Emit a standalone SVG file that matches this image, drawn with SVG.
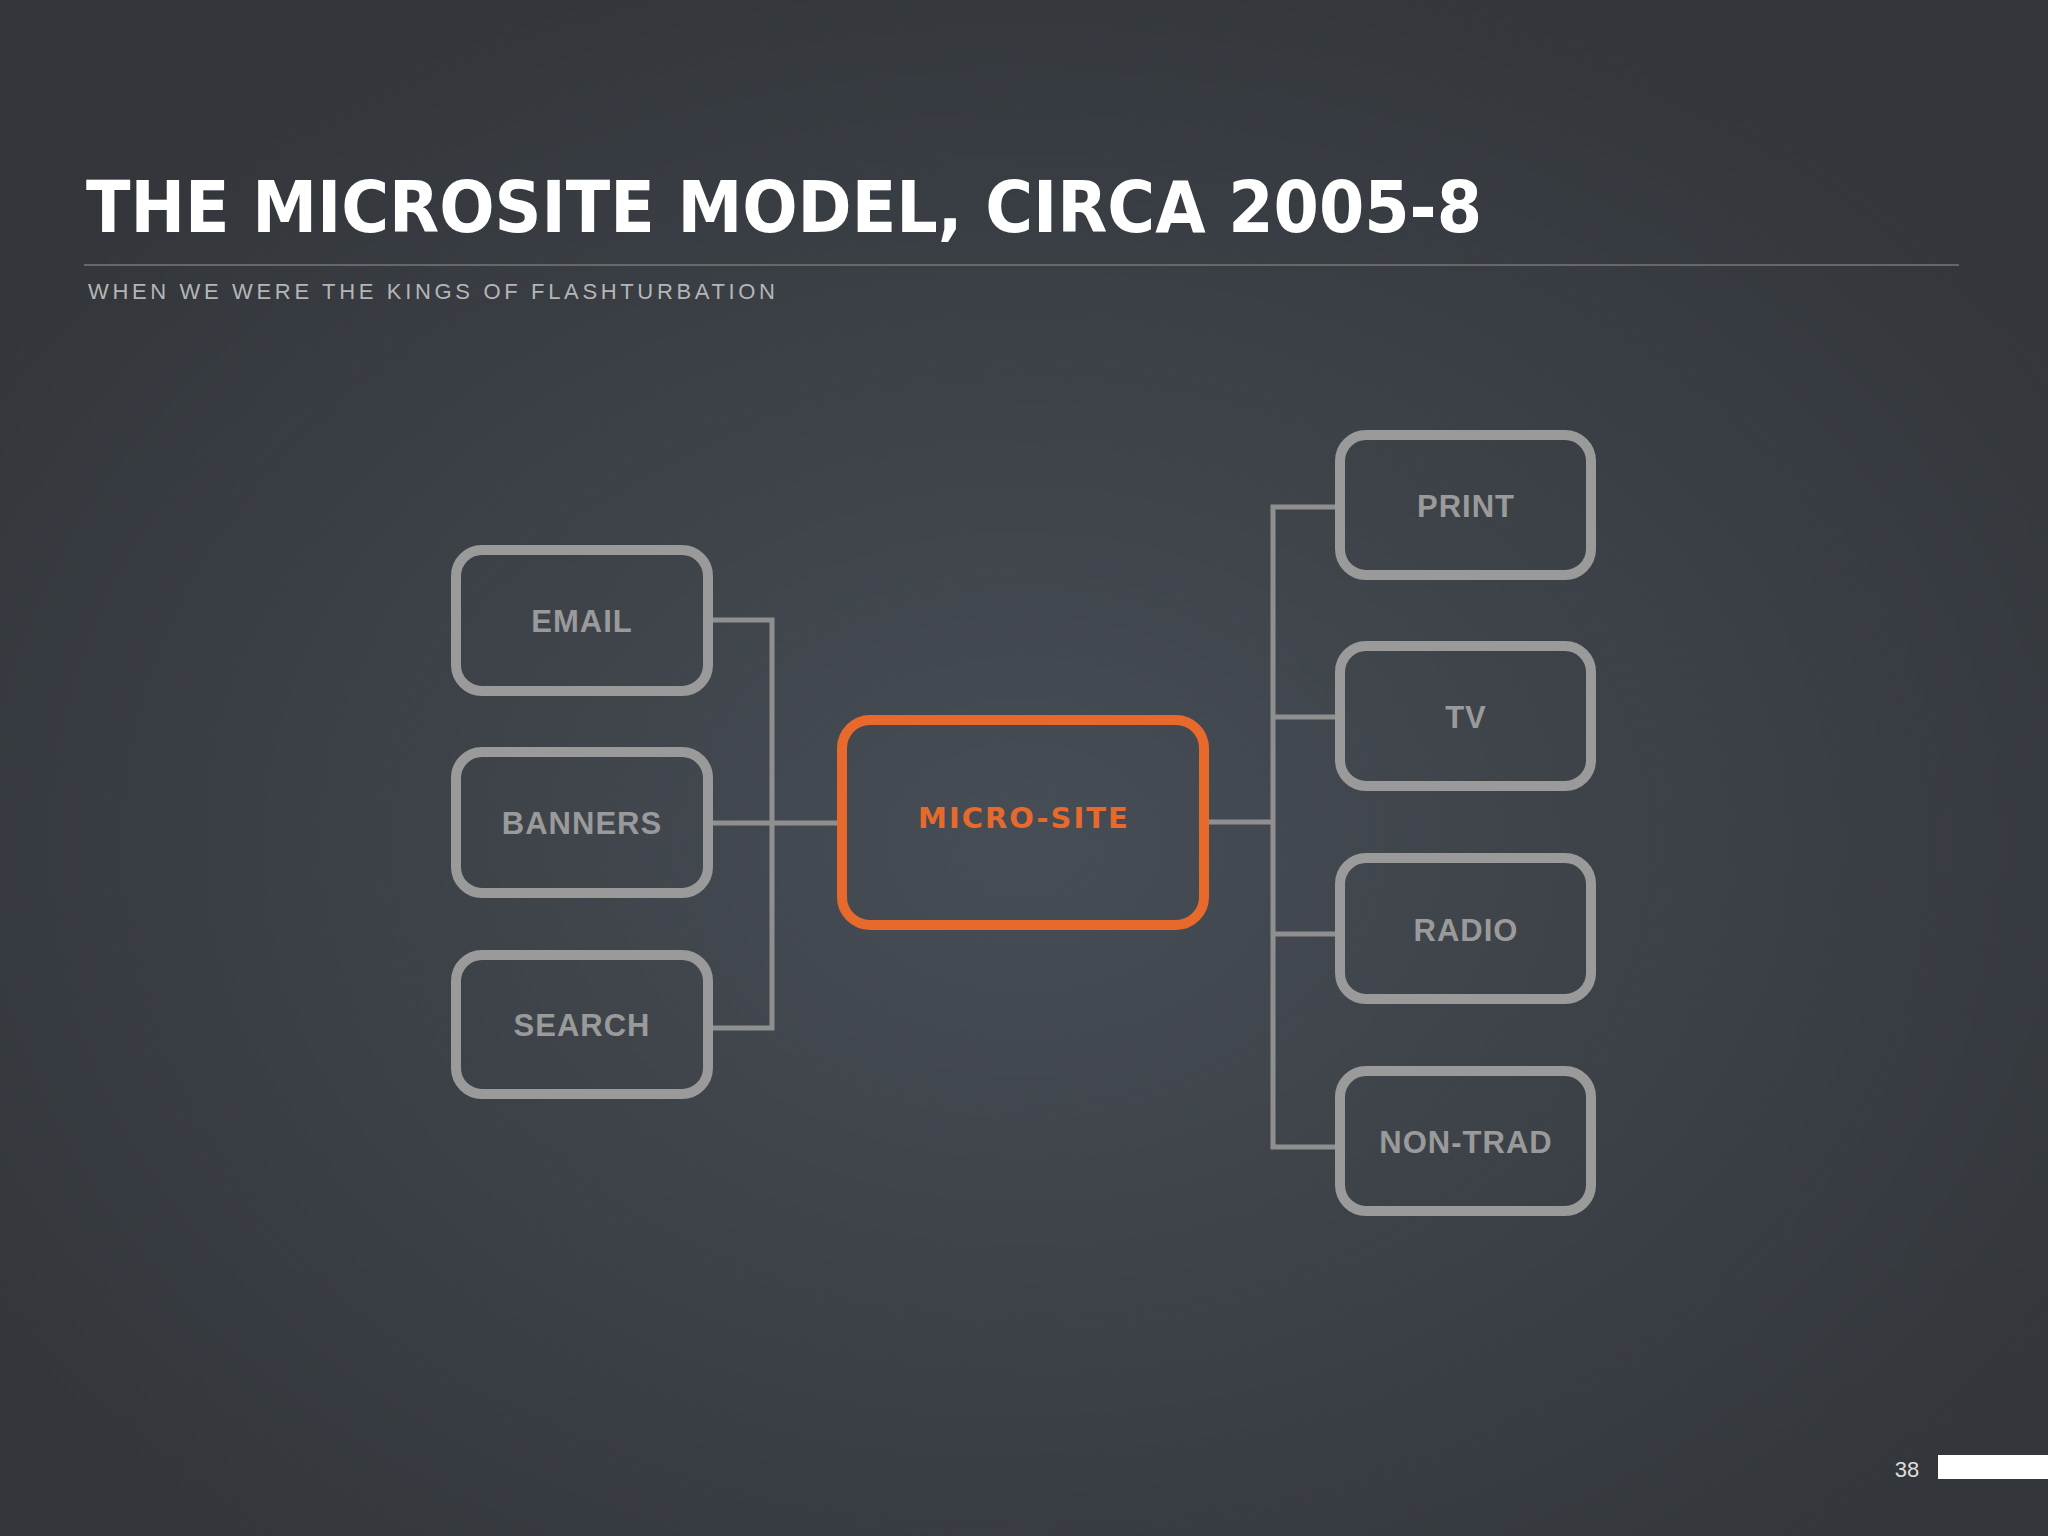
<svg xmlns="http://www.w3.org/2000/svg" width="2048" height="1536" viewBox="0 0 2048 1536">
<defs>
<radialGradient id="bg" cx="0.5" cy="0.55" r="0.6">
<stop offset="0" stop-color="#474d55"/>
<stop offset="1" stop-color="#33373c"/>
</radialGradient>
</defs>
<style>
.box{fill:none;stroke:#9a9a9a;stroke-width:10}
.lbl{font-family:"Liberation Sans",Arial,sans-serif;font-weight:bold;font-size:31px;fill:#9a9a9a;text-anchor:middle;letter-spacing:1px}
.con{fill:none;stroke:#8f8f8f;stroke-width:5}
</style>
<rect width="2048" height="1536" fill="url(#bg)"/>
<text x="86" y="232" font-family="'DejaVu Sans',sans-serif" font-weight="bold" font-size="72" fill="#ffffff" textLength="1396" lengthAdjust="spacingAndGlyphs">THE MICROSITE MODEL, CIRCA 2005-8</text>
<line x1="84" y1="265" x2="1959" y2="265" stroke="#777" stroke-width="1.5"/>
<text x="88" y="299" font-family="'Liberation Sans',Arial,sans-serif" font-size="22" fill="#b5b5b5" textLength="687" lengthAdjust="spacing">WHEN WE WERE THE KINGS OF FLASHTURBATION</text>
<g id="connectors">
<path class="con" d="M708 620H772V1028H708M708 823H842"/>
<path class="con" d="M1204 822H1273M1340 507H1273V1147H1340M1273 717H1340M1273 934H1340"/>
</g>
<g id="email"><rect class="box" x="456" y="550" width="252" height="141" rx="26"/><text class="lbl" x="582" y="632">EMAIL</text></g>
<g id="banners"><rect class="box" x="456" y="752" width="252" height="141" rx="26"/><text class="lbl" x="582" y="834">BANNERS</text></g>
<g id="search"><rect class="box" x="456" y="955" width="252" height="139" rx="26"/><text class="lbl" x="582" y="1036">SEARCH</text></g>
<g id="microsite"><rect x="842" y="720" width="362" height="205" rx="28" fill="none" stroke="#e8692c" stroke-width="10"/><text x="1024" y="828" font-family="'DejaVu Sans',sans-serif" font-weight="bold" font-size="29" fill="#e8692c" text-anchor="middle" letter-spacing="2">MICRO-SITE</text></g>
<g id="print"><rect class="box" x="1340" y="435" width="251" height="140" rx="26"/><text class="lbl" x="1466" y="517">PRINT</text></g>
<g id="tv"><rect class="box" x="1340" y="646" width="251" height="140" rx="26"/><text class="lbl" x="1466" y="728">TV</text></g>
<g id="radio"><rect class="box" x="1340" y="858" width="251" height="141" rx="26"/><text class="lbl" x="1466" y="941">RADIO</text></g>
<g id="nontrad"><rect class="box" x="1340" y="1071" width="251" height="140" rx="26"/><text class="lbl" x="1466" y="1153">NON-TRAD</text></g>
<text x="1907" y="1477" font-family="'Liberation Sans',Arial,sans-serif" font-size="22" fill="#dddddd" text-anchor="middle">38</text>
<rect x="1938" y="1455" width="110" height="24" fill="#ffffff"/>
</svg>
